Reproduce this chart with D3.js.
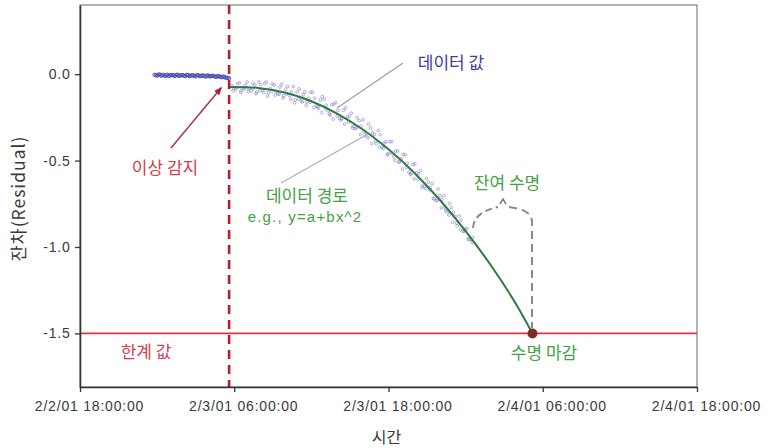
<!DOCTYPE html>
<html><head><meta charset="utf-8">
<script src="https://cdn.jsdelivr.net/npm/d3@7"></script>
<style>
body{margin:0;background:#fff;}
text{font-family:"Liberation Sans",Arial,"Noto Sans CJK KR",sans-serif;}
.kr{font-family:"Noto Sans CJK KR","Liberation Sans",sans-serif;}
</style>
</head><body>
<svg id="c" width="768" height="448"></svg>
<script>
// ---- data (hours after 2/2/01 18:00:00) ----
const xTickHours = [0, 12, 24, 36, 48];
const yTickValues = [0.0, -0.5, -1.0, -1.5];

const flatHours = [5.8,6.0,6.2,6.4,6.6,6.8,7.0,7.2,7.4,7.6,7.8,8.0,8.2,8.4,8.6,8.8,9.0,9.2,9.4,9.6,9.8,10.0,10.2,10.4,10.6,10.8,11.0,11.2,11.4,11.6];
const flatValues = [-0.004,-0.008,-0.002,-0.006,-0.010,-0.003,-0.007,-0.005,-0.011,-0.004,-0.008,-0.006,-0.012,-0.005,-0.009,-0.007,-0.013,-0.006,-0.010,-0.008,-0.014,-0.009,-0.012,-0.010,-0.016,-0.011,-0.018,-0.015,-0.022,-0.025];
const flatHours2 = [5.9,6.1,6.3,6.5,6.7,6.9,7.1,7.3,7.5,7.7,7.9,8.1,8.3,8.5,8.7,8.9,9.1,9.3,9.5,9.7,9.9,10.1,10.3,10.5,10.7,10.9,11.1,11.3,11.5];
const flatValues2 = [-0.006,-0.003,-0.009,-0.004,-0.007,-0.011,-0.005,-0.008,-0.004,-0.010,-0.006,-0.009,-0.005,-0.011,-0.007,-0.010,-0.006,-0.012,-0.008,-0.011,-0.007,-0.013,-0.010,-0.014,-0.012,-0.016,-0.014,-0.019,-0.021];

const scatterHoursA = [11.8,12.1,12.4,12.7,13.0,13.3,13.6,13.9,14.2,14.5,14.8,15.1,15.4,15.7,16.0,16.3,16.6,16.9,17.2,17.5,17.8,18.1,18.4,18.7,19.0,19.3,19.6,19.9,20.2,20.5,20.8,21.1,21.4,21.7,22.0,22.3,22.6,22.9,23.2,23.5,23.8,24.1,24.4,24.7,25.0,25.3,25.6,25.9,26.2,26.5,26.8,27.1,27.4,27.7,28.0,28.3,28.6,28.9,29.2,29.5,29.8,30.1,30.4];
const scatterValuesA = [-0.066,-0.090,-0.050,-0.080,-0.046,-0.097,-0.063,-0.045,-0.093,-0.046,-0.084,-0.063,-0.113,-0.058,-0.088,-0.124,-0.071,-0.103,-0.155,-0.103,-0.141,-0.105,-0.185,-0.150,-0.145,-0.211,-0.177,-0.164,-0.256,-0.209,-0.247,-0.226,-0.315,-0.270,-0.265,-0.346,-0.312,-0.349,-0.326,-0.424,-0.392,-0.391,-0.475,-0.445,-0.490,-0.466,-0.567,-0.523,-0.571,-0.558,-0.651,-0.625,-0.634,-0.733,-0.703,-0.704,-0.795,-0.772,-0.824,-0.821,-0.909,-0.893,-0.957];

const scatterHoursB = [11.95,12.25,12.55,12.85,13.15,13.45,13.75,14.05,14.35,14.65,14.95,15.25,15.55,15.85,16.15,16.45,16.75,17.05,17.35,17.65,17.95,18.25,18.55,18.85,19.15,19.45,19.75,20.05,20.35,20.65,20.95,21.25,21.55,21.85,22.15,22.45,22.75,23.05,23.35,23.65,23.95,24.25,24.55,24.85,25.15,25.45,25.75,26.05,26.35,26.65,26.95,27.25,27.55,27.85,28.15,28.45,28.75,29.05,29.35,29.65,29.95,30.25,30.55];
const scatterValuesB = [-0.081,-0.055,-0.095,-0.065,-0.086,-0.052,-0.104,-0.061,-0.054,-0.107,-0.056,-0.100,-0.075,-0.125,-0.071,-0.102,-0.149,-0.086,-0.119,-0.162,-0.105,-0.140,-0.200,-0.130,-0.180,-0.236,-0.173,-0.210,-0.257,-0.195,-0.244,-0.303,-0.252,-0.302,-0.358,-0.289,-0.340,-0.402,-0.350,-0.398,-0.461,-0.390,-0.445,-0.510,-0.465,-0.516,-0.582,-0.519,-0.577,-0.644,-0.603,-0.657,-0.721,-0.665,-0.726,-0.792,-0.748,-0.800,-0.877,-0.845,-0.898,-0.957,-0.946];

const scatterHoursC = [11.9,12.2,12.5,12.8,13.1,13.4,13.7,14.0,14.3,14.6,14.9,15.2,15.5,15.8,16.1,16.4,16.7,17.0,17.3,17.6,17.9,18.2,18.5,18.8,19.1,19.4,19.7,20.0,20.3,20.6,20.9,21.2,21.5,21.8,22.1,22.4,22.7,23.0,23.3,23.6,23.9,24.2,24.5,24.8,25.1,25.4,25.7,26.0,26.3,26.6,26.9,27.2,27.5,27.8,28.1,28.4,28.7,29.0,29.3,29.6,29.9,30.2,30.5];
const scatterValuesC = [-0.096,-0.080,-0.105,-0.087,-0.101,-0.085,-0.113,-0.095,-0.105,-0.126,-0.099,-0.121,-0.116,-0.138,-0.114,-0.144,-0.166,-0.143,-0.160,-0.181,-0.163,-0.192,-0.190,-0.222,-0.200,-0.229,-0.260,-0.242,-0.266,-0.289,-0.277,-0.311,-0.312,-0.350,-0.332,-0.368,-0.402,-0.389,-0.421,-0.429,-0.467,-0.456,-0.498,-0.508,-0.550,-0.539,-0.577,-0.605,-0.608,-0.656,-0.661,-0.670,-0.719,-0.728,-0.773,-0.774,-0.815,-0.857,-0.862,-0.901,-0.907,-0.953,-0.972];

const fitHours  = [11.6, 13, 14, 16, 18, 20, 22, 24, 26, 28, 30, 32, 34, 35.2];
const fitValues = [-0.075,-0.076,-0.081,-0.108,-0.157,-0.228,-0.320,-0.435,-0.570,-0.728,-0.908,-1.110,-1.340,-1.500];

const anomalyHour = 11.6;
const thresholdValue = -1.5;
const eolHour = 35.2;

// ---- setup ----
const start = new Date(2001, 1, 2, 18, 0, 0);
const T = h => new Date(start.getTime() + h * 3600e3);
const L = 80, R = 697, TOP = 5, BOT = 387;
const svg = d3.select("#c");
const x = d3.scaleTime().domain([T(0), T(48)]).range([L, R]);
const y = d3.scaleLinear().domain([-1.81, 0.4]).range([BOT, TOP]);
const X = h => x(T(h));

// frame
svg.append("rect").attr("x", L).attr("y", TOP).attr("width", R - L).attr("height", BOT - TOP)
  .attr("fill", "none").attr("stroke", "#666").attr("stroke-width", 1);

// threshold line
svg.append("line").attr("x1", L).attr("x2", R).attr("y1", y(thresholdValue)).attr("y2", y(thresholdValue))
  .attr("stroke", "#e03545").attr("stroke-width", 1.6);

// scatter
const flatPts = flatHours.map((h, i) => ({h, v: flatValues[i]}))
  .concat(flatHours2.map((h, i) => ({h, v: flatValues2[i]})));
const curvePts = scatterHoursA.map((h, i) => ({h, v: scatterValuesA[i]}))
  .concat(scatterHoursB.map((h, i) => ({h, v: scatterValuesB[i]})))
  .concat(scatterHoursC.map((h, i) => ({h, v: scatterValuesC[i]})));
svg.append("g").selectAll("circle").data(curvePts).join("circle")
  .attr("cx", d => X(d.h)).attr("cy", d => y(d.v)).attr("r", 1.4)
  .attr("fill", "none").attr("stroke", "#8080d4").attr("stroke-opacity", 0.7).attr("stroke-width", 0.9);
svg.append("g").selectAll("circle").data(flatPts).join("circle")
  .attr("cx", d => X(d.h)).attr("cy", d => y(d.v)).attr("r", 1.7)
  .attr("fill", "none").attr("stroke", "#4646b4").attr("stroke-opacity", 0.9).attr("stroke-width", 1);

// fit line
const fit = fitHours.map((h, i) => ({h, v: fitValues[i]}));
svg.append("path").datum(fit)
  .attr("d", d3.line().x(d => X(d.h)).y(d => y(d.v)).curve(d3.curveMonotoneX))
  .attr("fill", "none").attr("stroke", "#2f7a3c").attr("stroke-width", 2);

// anomaly dashed line
svg.append("line").attr("x1", X(anomalyHour)).attr("x2", X(anomalyHour)).attr("y1", TOP).attr("y2", BOT)
  .attr("stroke", "#b0202c").attr("stroke-width", 2.6).attr("stroke-dasharray", "9,6");

// EOL dot
svg.append("circle").attr("cx", X(eolHour)).attr("cy", y(thresholdValue)).attr("r", 5)
  .attr("fill", "#7a3020");

// axes
const xAxis = d3.axisBottom(x).tickValues(xTickHours.map(T))
  .tickFormat(d3.timeFormat("%-m/%-d/%y %H:%M:%S")).tickSize(5).tickSizeOuter(0);
const gx = svg.append("g").attr("transform", `translate(0,${BOT})`).call(xAxis);
const yAxis = d3.axisLeft(y).tickValues(yTickValues).tickFormat(d => d.toFixed(1)).tickSize(5).tickSizeOuter(0);
const gy = svg.append("g").attr("transform", `translate(${L},0)`).call(yAxis);
[gx, gy].forEach(g => {
  g.select(".domain").attr("stroke", "#333").attr("stroke-width", 1.6);
  g.selectAll(".tick line").attr("stroke", "#333").attr("stroke-width", 1.3);
  g.selectAll(".tick text").attr("fill", "#3a3a3a").style("font-size", "14px")
    .style("letter-spacing", "0.8px")
    .style("font-family", "'Liberation Sans',Arial,sans-serif");
});
gx.selectAll(".tick text").attr("dy", "1.15em").attr("dx", 9);
gy.selectAll(".tick text").attr("dx", "-0.1em");

// axis titles
svg.append("text").attr("class", "kr").attr("x", X(24) - 2).attr("y", 443).attr("text-anchor", "middle")
  .attr("fill", "#3a3a3a").style("font-size", "16px").text("시간");
svg.append("text").attr("class", "kr").attr("transform", `translate(25,${y(-0.72)}) rotate(-90)`)
  .attr("text-anchor", "middle").attr("fill", "#3a3a3a").style("font-size", "17.5px")
  .style("letter-spacing", "1px").text("잔차(Residual)");

// annotations
const defs = svg.append("defs");
defs.append("marker").attr("id", "ah").attr("viewBox", "0 0 10 10").attr("refX", 8).attr("refY", 5)
  .attr("markerWidth", 6).attr("markerHeight", 6).attr("orient", "auto")
  .append("path").attr("d", "M0,1 L10,5 L0,9 z").attr("fill", "#b02035");
svg.append("line").attr("x1", 171).attr("y1", 148).attr("x2", 221).attr("y2", 88)
  .attr("stroke", "#a83040").attr("stroke-width", 1.4).attr("marker-end", "url(#ah)");

const kText = (tx, ty, s, col, size) => svg.append("text").attr("class", "kr").attr("x", tx).attr("y", ty)
  .attr("text-anchor", "middle").attr("fill", col).style("font-size", size + "px").text(s);

kText(165, 174, "이상 감지", "#d4404e", 17);

svg.append("line").attr("x1", 403).attr("y1", 63).attr("x2", 337).attr("y2", 108)
  .attr("stroke", "#a0a0a0").attr("stroke-width", 1.2);
kText(451, 69, "데이터 값", "#3c3c9c", 17);

svg.append("line").attr("x1", 281).attr("y1", 183).attr("x2", 368).attr("y2", 134)
  .attr("stroke", "#b0b0b0").attr("stroke-width", 1.2);
kText(307, 202, "데이터 경로", "#46a046", 17);
svg.append("text").attr("x", 305).attr("y", 222).attr("text-anchor", "middle")
  .attr("fill", "#46a046").style("font-size", "15px").style("letter-spacing", "1.2px").text("e.g., y=a+bx^2");

kText(507, 189, "잔여 수명", "#46a046", 17);
// bracket
svg.append("path").attr("d", "M473,228 C474,218 480,211 498,207")
  .attr("fill", "none").attr("stroke", "#8a8a8a").attr("stroke-width", 2).attr("stroke-dasharray", "7,4");
svg.append("path").attr("d", "M509,207 C524,209 532,213 532,222 L532,328")
  .attr("fill", "none").attr("stroke", "#8a8a8a").attr("stroke-width", 2).attr("stroke-dasharray", "8,5");
svg.append("path").attr("d", "M500,204 L503,199 L506,204").attr("fill", "none")
  .attr("stroke", "#7a7a7a").attr("stroke-width", 1.5);

kText(544, 359, "수명 마감", "#46a046", 17);
kText(146, 358, "한계 값", "#d4404e", 17);
</script>
</body></html>
